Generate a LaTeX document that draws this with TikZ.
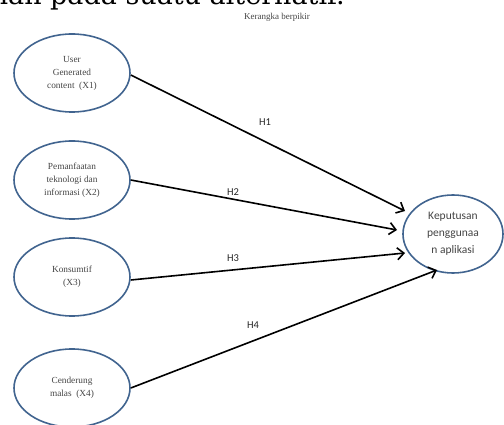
\documentclass[tikz,border=0pt]{standalone}
\usepackage{fontspec}
\setmainfont{Liberation Serif}
\newfontfamily\calib{Carlito}
\newfontfamily\dvs{DejaVu Serif}
\usetikzlibrary{arrows.meta,shapes.geometric}
\definecolor{ellblue}{HTML}{41648F}
\definecolor{txtgray}{HTML}{444444}
\begin{document}
\begin{tikzpicture}[x=1pt,y=-1pt,
  src/.style={draw=ellblue,line width=1.6pt,ellipse,minimum width=116pt,minimum height=78pt,inner sep=0pt,
    font=\fontsize{9.3}{13}\selectfont,text=txtgray,align=center},
  arr/.style={-{Straight Barb[length=6.5pt,width=12pt,line width=1.6pt]},line width=1.6pt,black},
  hlab/.style={font=\calib\fontsize{10.5}{12}\selectfont,text=black!85}]
\useasboundingbox (0,0) rectangle (504,425);
\clip (0,0) rectangle (504,425);
\node[anchor=base east,font=\dvs\fontsize{27}{30}\selectfont,inner sep=0pt] (top) at (345,5) {pilihan pada suatu alternatif.};
\node[font=\fontsize{9}{11}\selectfont,text=txtgray] (title) at (277,17) {Kerangka berpikir};
\node[src] (x1) at (72,73) {User\\Generated\\content\enspace(X1)};
\node[src] (x2) at (72,180) {Pemanfaatan\\teknologi dan\\informasi (X2)};
\node[src] (x3) at (72,277) {Konsumtif\\(X3)};
\node[src] (x4) at (72,388) {Cenderung\\malas\enspace(X4)};
\node[draw=ellblue,line width=1.6pt,ellipse,minimum width=100pt,minimum height=78pt,inner sep=0pt,
  font=\calib\fontsize{11.5}{17}\selectfont,text=txtgray,align=center] (y) at (453,234) {Keputusan\\penggunaa\\n aplikasi};
\coordinate (t1) at (405,211);
\coordinate (t2) at (397,230);
\coordinate (t3) at (405,253);
\coordinate (t4) at (437,270);
\path (x1.east) ++(0,2) coordinate (s1);
\path (x3.east) ++(0,3) coordinate (s3);
\draw[arr] (s1) -- (t1);
\draw[arr] (x2.east) -- (t2);
\draw[arr] (s3) -- (t3);
\draw[arr] (x4.east) -- (t4);
\node[hlab] (h1) at (265,122) {H1};
\node[hlab] (h2) at (233,192) {H2};
\node[hlab] (h3) at (233,258) {H3};
\node[hlab] (h4) at (253,325) {H4};
\end{tikzpicture}
\end{document}
